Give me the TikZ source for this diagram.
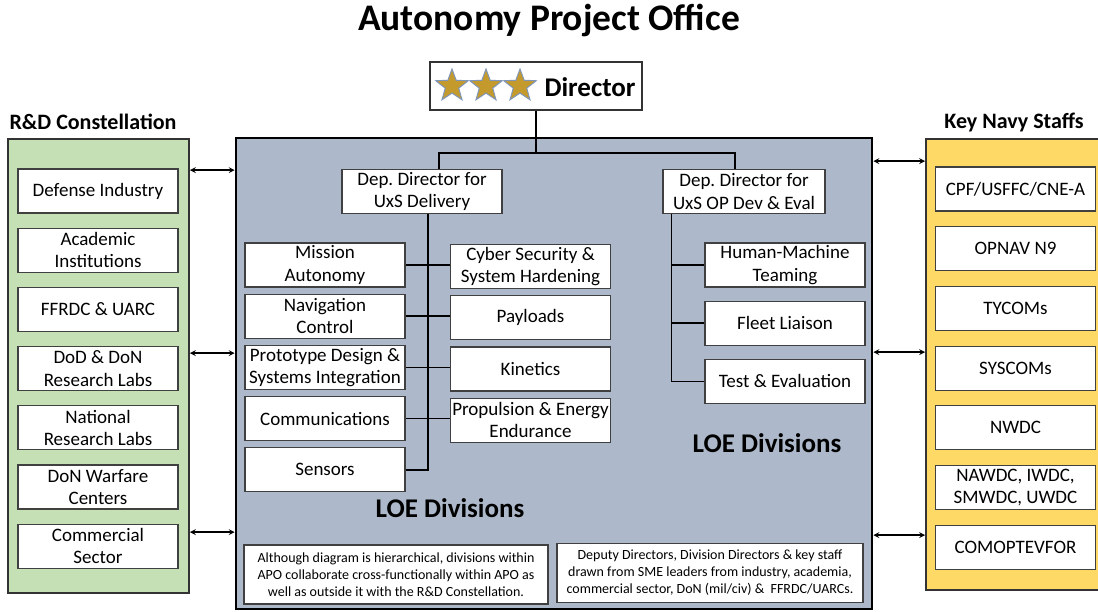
\documentclass[tikz,border=0pt]{standalone}
\usepackage{fontspec}
\setmainfont{Carlito}
\usetikzlibrary{shapes.geometric, arrows, positioning}
\definecolor{apoblue}{HTML}{ADB9CA}
\definecolor{rdgreen}{HTML}{C5E0B4}
\definecolor{navygold}{HTML}{FFD966}
\definecolor{stargold}{HTML}{C49A2C}
\definecolor{staredge}{HTML}{8096B8}
\tikzstyle{divbox} = [rectangle, minimum width=160pt, minimum height=44pt, align=center,
inner sep=1pt, draw=black!75, line width=1.2pt, fill=white, font=\fontsize{19}{22.5}\selectfont]
\tikzstyle{panel} = [rectangle, draw=black!80, line width=1.8pt]
\tikzstyle{heading} = [font=\fontsize{22}{26}\selectfont\bfseries]
\tikzstyle{loetext} = [font=\fontsize{27}{32}\selectfont\bfseries]
\tikzstyle{note} = [divbox, minimum width=304pt, minimum height=59pt, font=\fontsize{14}{17}\selectfont]
\tikzstyle{link} = [line width=1.6pt]
\tikzstyle{arrow} = [line width=1.6pt, <->, >=stealth]

\begin{document}
\frenchspacing
\begin{tikzpicture}[x=1pt, y=-1pt]
    \useasboundingbox (0,0) rectangle (1098,611);

    %Panels
    \node (rd) [panel, fill=rdgreen, minimum width=181pt, minimum height=454pt] at (98.5,366) {};
    \node (kns) [panel, fill=navygold, minimum width=180pt, minimum height=451pt] at (1016,364.5) {};
    \node (apo) [panel, fill=apoblue, draw=black, line width=2.6pt, minimum width=636pt, minimum height=471pt] at (554,373.5) {};

    %Titles
    \node (title) [font=\fontsize{37.5}{42}\selectfont\bfseries] at (549,20) {Autonomy Project Office};
    \node (rdtitle) [heading, anchor=west] at (6,122) {R\&D Constellation};
    \node (knstitle) [heading] at (1014,122) {Key Navy Staffs};

    %Director
    \node (dir) [rectangle, draw=black!80, line width=1.8pt, fill=white, minimum width=212pt, minimum height=48pt] at (536,86) {};
    \foreach \sx [count=\i] in {452,486,520}
        \node (star\i) [star, star points=5, star point ratio=2.4, fill=stargold, draw=staredge, line width=1pt, minimum size=34pt, inner sep=0pt] at (\sx,86) {};
    \node (dirlabel) [anchor=west, font=\fontsize{27}{32}\selectfont\bfseries] at (541,87) {Director};

    %Deputy Directors
    \node (dd1) [divbox] at (422,191.5) {Dep. Director for\\UxS Delivery};
    \node (dd2) [divbox, minimum width=162pt] at (744,191.5) {Dep. Director for\\UxS OP Dev \& Eval};

    %LOE Divisions under UxS Delivery
    \node (mission) [divbox] at (325,265) {Mission\\Autonomy};
    \node (nav) [divbox, below=6pt of mission] {Navigation\\Control};
    \node (proto) [divbox, below=6pt of nav] {Prototype Design \&\\Systems Integration};
    \node (comms) [divbox, below=6pt of proto] {Communications};
    \node (sensors) [divbox, below=6pt of comms] {Sensors};
    \node (cyber) [divbox] at (530.5,266.5) {Cyber Security \&\\System Hardening};
    \node (payloads) [divbox, below=6pt of cyber] {Payloads};
    \node (kinetics) [divbox, below=6pt of payloads] {Kinetics};
    \node (propulsion) [divbox, below=6pt of kinetics] {Propulsion \& Energy\\Endurance};

    %LOE Divisions under UxS OP Dev & Eval
    \node (hmt) [divbox] at (785,265) {Human-Machine\\Teaming};
    \node (fleet) [divbox, below=13pt of hmt] {Fleet Liaison};
    \node (testeval) [divbox, below=13pt of fleet] {Test \& Evaluation};

    \node (loe1) [loetext] at (450,508) {LOE Divisions};
    \node (loe2) [loetext] at (767,443) {LOE Divisions};

    %Notes
    \node (note1) [note] at (396,574.5) {Although diagram is hierarchical, divisions within\\APO collaborate cross-functionally within APO as\\well as outside it with the R\&D Constellation.};
    \node (note2) [note, minimum width=306pt] at (710,573) {Deputy Directors, Division Directors \& key staff\\drawn from SME leaders from industry, academia,\\commercial sector, DoN (mil/civ) \& \ FFRDC/UARCs.};

    %R&D Constellation
    \node (defind) [divbox] at (98,191) {Defense Industry};
    \node (academic) [divbox, below=14pt of defind] {Academic\\Institutions};
    \node (ffrdc) [divbox, below=14pt of academic] {FFRDC \& UARC};
    \node (dodlabs) [divbox, below=14pt of ffrdc] {DoD \& DoN\\Research Labs};
    \node (natlabs) [divbox, below=14pt of dodlabs] {National\\Research Labs};
    \node (warfare) [divbox, below=14pt of natlabs] {DoN Warfare\\Centers};
    \node (commercial) [divbox, below=14pt of warfare] {Commercial\\Sector};

    %Key Navy Staffs
    \node (cpf) [divbox] at (1015.5,189) {CPF/USFFC/CNE-A};
    \node (opnav) [divbox, below=14.5pt of cpf] {OPNAV N9};
    \node (tycoms) [divbox, below=14.5pt of opnav] {TYCOMs};
    \node (syscoms) [divbox, below=14.5pt of tycoms] {SYSCOMs};
    \node (nwdc) [divbox, below=14.5pt of syscoms] {NWDC};
    \node (wdcs) [divbox, below=14.5pt of nwdc] {NAWDC, IWDC,\\SMWDC, UWDC};
    \node (comop) [divbox, below=14.5pt of wdcs] {COMOPTEVFOR};

    %Lines
    \coordinate (hub) at (dir.south |- 0,153);
    \draw [link] (dir.south) -- (hub);
    \draw [link] ([xshift=17pt]dd1.north) |- (hub) -| ([xshift=-9pt]dd2.north);
    \draw [link] ([xshift=6pt]dd1.south) |- (sensors.east);
    \foreach \l/\r in {mission/cyber, nav/payloads, proto/kinetics, comms/propulsion}
        \draw [link] (\l.east) -- (\l.east -| \r.west);
    \draw [link] ([xshift=9pt]dd2.south west) coordinate (trunk2) |- (testeval.west);
    \foreach \b in {hmt, fleet}
        \draw [link] (\b.west) -- (\b.west -| trunk2);

    %Arrows
    \foreach \dy in {32, 215, 394}
        \draw [arrow] ([yshift=-\dy pt]rd.north east) -- ([yshift=-\dy pt]rd.north east -| apo.west);
    \foreach \dy in {23, 214, 397}
        \draw [arrow] ([yshift=-\dy pt]kns.north west) -- ([yshift=-\dy pt]kns.north west -| apo.east);

\end{tikzpicture}
\end{document}
